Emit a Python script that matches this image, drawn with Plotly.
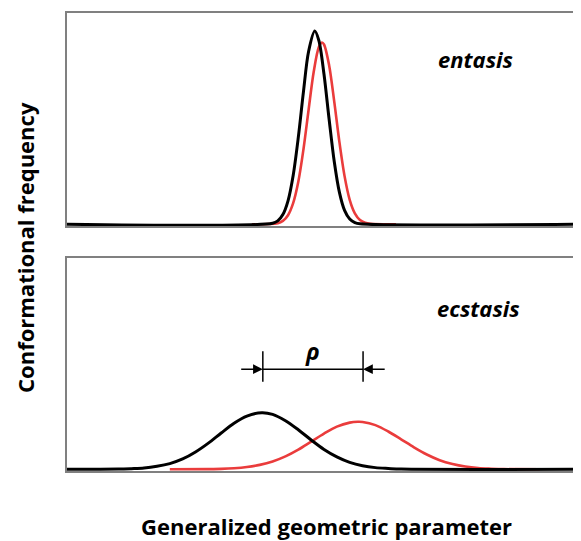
import plotly.graph_objects as go
from plotly.subplots import make_subplots

# ---- data (arbitrary units) ----
# top panel: "entasis"
top_black_x = [0, 4.0, 4.1, 4.2, 4.3, 4.4, 4.5, 4.6, 4.7, 4.82, 4.9, 5.0, 5.1, 5.2, 5.3, 5.4, 5.5, 5.6, 5.7, 10]
top_black_y = [0, 0.005, 0.016, 0.046, 0.111, 0.231, 0.411, 0.627, 0.818, 0.915, 0.870, 0.710, 0.496, 0.296,
               0.151, 0.066, 0.025, 0.008, 0.002, 0]
top_red_x = [3.6, 4.1, 4.2, 4.3, 4.4, 4.5, 4.6, 4.7, 4.8, 4.9, 4.96, 5.0, 5.1, 5.2, 5.3, 5.4, 5.5, 5.6, 5.7, 5.8, 5.9, 6.4]
top_red_y = [0, 0.005, 0.016, 0.043, 0.100, 0.201, 0.354, 0.541, 0.722, 0.839, 0.860, 0.851, 0.752, 0.579,
             0.389, 0.228, 0.116, 0.052, 0.020, 0.007, 0.002, 0]

# bottom panel: "ecstasis"
bot_black_x = [0, 1.0, 1.25, 1.5, 1.75, 2.0, 2.25, 2.5, 2.75, 3.0, 3.25, 3.5, 3.79, 4.0, 4.25, 4.5, 4.75,
               5.0, 5.25, 5.5, 5.75, 6.0, 6.25, 6.5, 10]
bot_black_y = [0, 0.001, 0.003, 0.006, 0.014, 0.027, 0.049, 0.082, 0.124, 0.172, 0.218, 0.252, 0.268, 0.260,
               0.230, 0.187, 0.139, 0.094, 0.059, 0.033, 0.017, 0.008, 0.004, 0.001, 0]
bot_red_x = [2.0, 2.75, 3.0, 3.25, 3.5, 3.75, 4.0, 4.25, 4.5, 4.75, 5.0, 5.25, 5.5, 5.66, 5.75, 6.0, 6.25,
             6.5, 6.75, 7.0, 7.25, 7.5, 7.75, 8.0, 8.25, 8.5, 9.2]
bot_red_y = [0, 0.001, 0.002, 0.005, 0.011, 0.021, 0.037, 0.061, 0.093, 0.131, 0.169, 0.202, 0.221, 0.225,
             0.224, 0.209, 0.179, 0.142, 0.104, 0.070, 0.043, 0.025, 0.013, 0.006, 0.003, 0.001, 0]

# rho marker (peak separation)
rho_left = 3.81
rho_right = 5.76
rho_level = 0.474

labels = {"top": "entasis", "bottom": "ecstasis"}
x_title = "Generalized geometric parameter"
y_title = "Conformational frequency"

BLACK = "#000000"
RED = "#ea3c3c"
GRAY = "#808080"

fig = make_subplots(rows=2, cols=1, vertical_spacing=0.0655, shared_xaxes=False)

def add(x, y, color, row, width):
    fig.add_trace(go.Scatter(x=x, y=y, mode="lines", line=dict(color=color, width=width, shape="spline",
                                                               smoothing=0.9),
                             hoverinfo="skip", showlegend=False), row=row, col=1)

add(top_red_x, top_red_y, RED, 1, 2.6)
add(top_black_x, top_black_y, BLACK, 1, 3)
add(bot_red_x, bot_red_y, RED, 2, 2.6)
add(bot_black_x, bot_black_y, BLACK, 2, 3)

for ax in ["xaxis", "xaxis2"]:
    fig.layout[ax].update(range=[0, 10], showgrid=False, zeroline=False, showticklabels=False, ticks="",
                          showline=True, mirror=True, linecolor=GRAY, linewidth=2)
for ax in ["yaxis", "yaxis2"]:
    fig.layout[ax].update(range=[-0.008, 1.0], showgrid=False, zeroline=False, showticklabels=False, ticks="",
                          showline=True, mirror=False, linecolor=GRAY, linewidth=2)

# rho marker lines
for xv in [rho_left, rho_right]:
    fig.add_shape(type="line", xref="x2", yref="y2", x0=xv, x1=xv, y0=rho_level - 0.06, y1=rho_level + 0.085,
                  line=dict(color=BLACK, width=1.5))
fig.add_shape(type="line", xref="x2", yref="y2", x0=rho_left, x1=rho_right, y0=rho_level, y1=rho_level,
              line=dict(color=BLACK, width=1.5))
fig.add_annotation(x=rho_left, y=rho_level, ax=rho_left - 0.45, ay=rho_level, xref="x2", yref="y2",
                   axref="x2", ayref="y2", showarrow=True, arrowhead=2, arrowsize=1.3, arrowwidth=1.5,
                   arrowcolor=BLACK, text="")
fig.add_annotation(x=rho_right, y=rho_level, ax=rho_right + 0.45, ay=rho_level, xref="x2", yref="y2",
                   axref="x2", ayref="y2", showarrow=True, arrowhead=2, arrowsize=1.3, arrowwidth=1.5,
                   arrowcolor=BLACK, text="")
fig.add_annotation(x=(rho_left + rho_right) / 2, y=rho_level + 0.085, xref="x2", yref="y2", text="<b><i>ρ</i></b>",
                   showarrow=False, font=dict(family="Open Sans", size=23, color=BLACK), yanchor="middle")

fig.add_annotation(x=7.94, y=0.78, xref="x", yref="y", text="<b><i>%s</i></b>" % labels["top"], showarrow=False,
                   font=dict(family="Open Sans", size=22, color=BLACK))
fig.add_annotation(x=8.0, y=0.765, xref="x2", yref="y2", text="<b><i>%s</i></b>" % labels["bottom"],
                   showarrow=False, font=dict(family="Open Sans", size=22, color=BLACK))

fig.add_annotation(x=0.504, y=-0.121, xref="paper", yref="paper", text="<b>%s</b>" % x_title, showarrow=False,
                   font=dict(family="Open Sans", size=22, color=BLACK), yanchor="middle")
fig.add_annotation(x=-0.0817, y=0.487, xref="paper", yref="paper", text="<b>%s</b>" % y_title, showarrow=False,
                   textangle=-90, font=dict(family="Open Sans", size=22, color=BLACK), xanchor="center")

fig.update_layout(width=573, height=533, margin=dict(l=59, r=0, t=5, b=70), plot_bgcolor="white",
                  paper_bgcolor="white", showlegend=False)
fig.layout.yaxis.domain = [0.535, 1.0]
fig.layout.yaxis2.domain = [0.0, 0.465]

fig.write_html("out.html")
